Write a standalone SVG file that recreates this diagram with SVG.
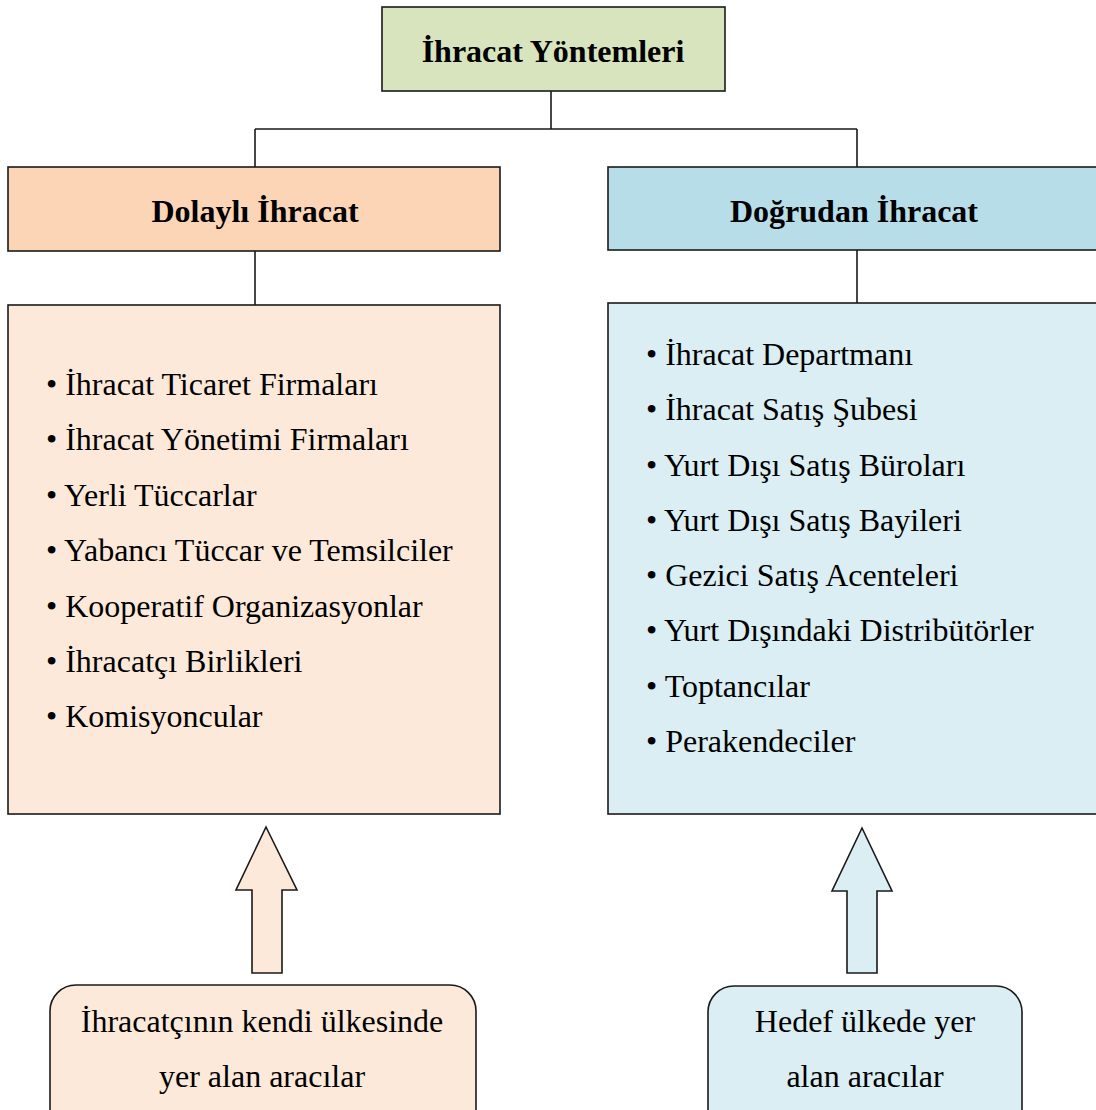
<svg xmlns="http://www.w3.org/2000/svg" width="1096" height="1110" viewBox="0 0 1096 1110">
<style>
.box{stroke:#1a1a1a;stroke-width:1.6}
.t{font-family:"Liberation Serif","Times New Roman",serif;font-size:32px;fill:#000}
.b{font-weight:bold}
.c{text-anchor:middle}
.ln{fill:none;stroke:#1a1a1a;stroke-width:1.6}
</style>
<rect width="1096" height="1110" fill="#ffffff"/>
<g id="connectors">
<path class="ln" d="M551,91 V129 M255,129 H857 M255,129 V167 M857,129 V167 M255,251 V305 M857,250 V303"/>
</g>
<g id="root">
<rect class="box" x="382" y="7" width="343" height="84" fill="#d7e4bd"/>
<text class="t b c" x="553" y="62">İhracat Yöntemleri</text>
</g>
<g id="dolayli">
<rect class="box" x="8" y="167" width="492" height="84" fill="#fbd5b5"/>
<text class="t b c" x="255" y="222">Dolaylı İhracat</text>
</g>
<g id="dogrudan">
<rect class="box" x="608" y="167" width="495" height="83" fill="#b7dee8"/>
<text class="t b c" x="854" y="222">Doğrudan İhracat</text>
</g>
<g id="dolayli-list">
<rect class="box" x="8" y="305" width="492" height="509" fill="#fde9d9"/>
<text class="t" x="46" y="395">• İhracat Ticaret Firmaları</text>
<text class="t" x="46" y="450">• İhracat Yönetimi Firmaları</text>
<text class="t" x="46" y="506">• Yerli Tüccarlar</text>
<text class="t" x="46" y="561">• Yabancı Tüccar ve Temsilciler</text>
<text class="t" x="46" y="617">• Kooperatif Organizasyonlar</text>
<text class="t" x="46" y="672">• İhracatçı Birlikleri</text>
<text class="t" x="46" y="727">• Komisyoncular</text>
</g>
<g id="dogrudan-list">
<rect class="box" x="608" y="303" width="495" height="511" fill="#daeef3"/>
<text class="t" x="646" y="365">• İhracat Departmanı</text>
<text class="t" x="646" y="420">• İhracat Satış Şubesi</text>
<text class="t" x="646" y="476">• Yurt Dışı Satış Büroları</text>
<text class="t" x="646" y="531">• Yurt Dışı Satış Bayileri</text>
<text class="t" x="646" y="586">• Gezici Satış Acenteleri</text>
<text class="t" x="646" y="641">• Yurt Dışındaki Distribütörler</text>
<text class="t" x="646" y="697">• Toptancılar</text>
<text class="t" x="646" y="752">• Perakendeciler</text>
</g>
<g id="arrow-left">
<polygon class="box" points="266,827 297,890 282,890 282,973 252,973 252,890 236,890" fill="#fde9d9"/>
</g>
<g id="arrow-right">
<polygon class="box" points="862,828 892,891 877,891 877,973 847,973 847,891 832,891" fill="#daeef3"/>
</g>
<g id="yerli-aracilar">
<rect class="box" x="50" y="985" width="426" height="150" rx="26" ry="26" fill="#fde9d9"/>
<text class="t c" x="262" y="1032">İhracatçının kendi ülkesinde</text>
<text class="t c" x="262" y="1087">yer alan aracılar</text>
</g>
<g id="hedef-aracilar">
<rect class="box" x="708" y="986" width="314" height="150" rx="26" ry="26" fill="#daeef3"/>
<text class="t c" x="865" y="1032">Hedef ülkede yer</text>
<text class="t c" x="865" y="1087">alan aracılar</text>
</g>
</svg>
